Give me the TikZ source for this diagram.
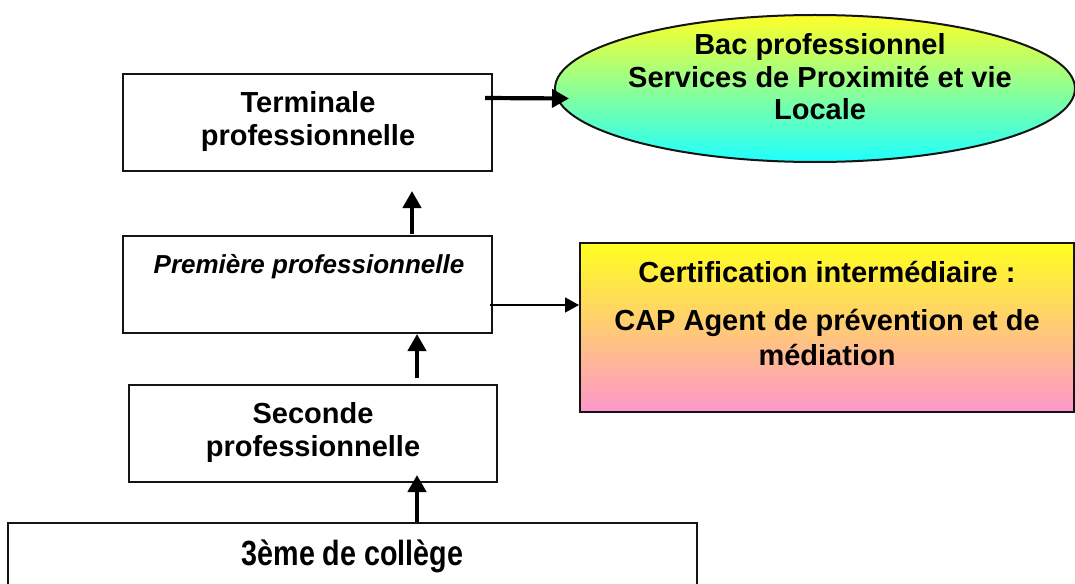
\documentclass[tikz,border=0pt]{standalone}
\usepackage{fontspec}
\setmainfont{Liberation Sans}
\newfontfamily\narrowfont[FakeStretch=0.82]{Liberation Sans}
\usetikzlibrary{arrows.meta,shapes.geometric,calc}
\definecolor{ellTop}{RGB}{255,255,40}
\definecolor{ellBot}{RGB}{30,255,255}
\definecolor{capTop}{RGB}{255,255,30}
\definecolor{capBot}{RGB}{255,150,204}
\begin{document}
\begin{tikzpicture}[x=1pt,y=-1pt,
  box/.style={draw=black!92, line width=2pt, rectangle, inner sep=0pt},
  txt/.style={font=\fontsize{29}{34}\selectfont\bfseries, inner sep=0pt, anchor=base},
  bigarrow/.style={line width=4.2pt, -{Triangle[length=17pt,width=18pt]}},
  thinarrow/.style={line width=1.6pt, -{Triangle[length=14pt,width=15pt]}}]
\useasboundingbox (0,0) rectangle (1075,583);
\clip (0,0) rectangle (1075,583);
% boxes
\node[box, minimum width=369pt, minimum height=97pt] (term) at (307.5,122.5) {};
\node[box, minimum width=369pt, minimum height=97pt] (prem) at (307.5,284.5) {};
\node[box, minimum width=368pt, minimum height=97pt] (sec) at (313,433.5) {};
\node[box, minimum width=689pt, minimum height=117pt] (col) at (352.5,581.5) {};
\node[box, minimum width=494pt, minimum height=169pt, top color=capTop, bottom color=capBot] (cap) at (827,327.5) {};
\node[ellipse, draw=black!92, line width=2pt, inner sep=0pt, minimum width=520pt, minimum height=147pt, top color=ellTop, bottom color=ellBot] (ell) at (815,88.5) {};
% texts
\node[txt] (t1) at (308,113) {Terminale};
\node[txt] (t2) at (308,146) {professionnelle};
\node[txt, font=\fontsize{26}{30}\selectfont\bfseries\itshape] (p1) at (309,273) {Première professionnelle};
\node[txt] (s1) at (313,423) {Seconde};
\node[txt] (s2) at (313,456) {professionnelle};
\node[txt, font=\fontsize{35}{40}\selectfont\narrowfont\bfseries] (c1) at (352.5,565) {3ème de collège};
\node[txt] (e1) at (820,55) {Bac professionnel};
\node[txt] (e2) at (820,88) {Services de Proximité et vie};
\node[txt] (e3) at (820,119) {Locale};
\node[txt] (k1) at (827,282) {Certification intermédiaire :};
\node[txt] (k2) at (827,330) {CAP Agent de prévention et de};
\node[txt] (k3) at (827,365) {médiation};
% arrows
\draw[bigarrow] ($(term.east)+(-8,-24.5)$) -- ($(ell.west)+(15,10)$);
\draw[bigarrow] ($(prem.north)+(104.5,-1)$) -- ($(term.south)+(104.5,19)$);
\draw[bigarrow] ($(sec.north)+(104,-6)$) -- ($(prem.south)+(109.5,0)$);
\draw[bigarrow] ($(col.north)+(64.5,0)$) -- ($(sec.south)+(104,-8)$);
\draw[thinarrow] ($(prem.east)+(-3,20.5)$) -- ($(cap.west)+(0,-22.5)$);
\end{tikzpicture}
\end{document}
